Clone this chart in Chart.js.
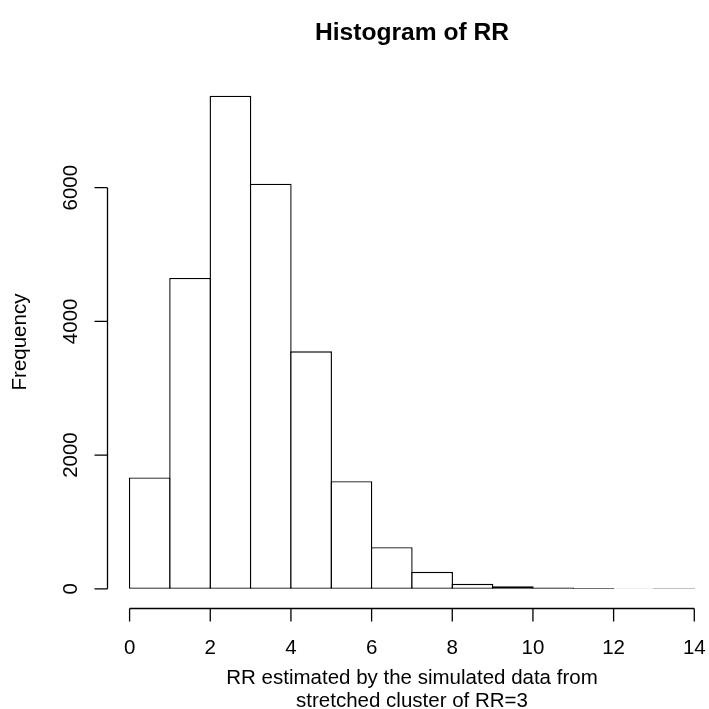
<!DOCTYPE html>
<html>
<head>
<meta charset="utf-8">
<script src="https://cdn.jsdelivr.net/npm/chart.js@4"></script>
<style>
  html, body { margin: 0; padding: 0; background: #fff; }
  #wrap { width: 709px; height: 709px; position: relative; }
</style>
</head>
<body>
<div id="wrap"><canvas id="c"></canvas></div>
<script>
// ---- data ----
const breaks = [0,1,2,3,4,5,6,7,8,9,10,11,12,13,14];
const counts = [1665, 4649, 7375, 6060, 3553, 1610, 623, 254, 75, 36, 20, 11, 6, 9];
const xTicks = [0, 2, 4, 6, 8, 10, 12, 14];
const yTicks = [0, 2000, 4000, 6000];
const titleText = "Histogram of RR";
const xLabelLines = ["RR estimated by the simulated data from", "stretched cluster of RR=3"];
const yLabelText = "Frequency";

const FONT = '"Liberation Sans", Arial, Helvetica, sans-serif';
const AX = 20.5;
const BW = 1.4;

const mids = counts.map((c, i) => ({ x: (breaks[i] + breaks[i + 1]) / 2, y: c }));

const xlo = breaks[0], xhi = breaks[breaks.length - 1];
const ymax = Math.max(...counts);
const ypad = ymax * 0.04;

const rAxes = {
  id: 'rAxes',
  afterDraw(chart) {
    const ctx = chart.ctx;
    const xs = chart.scales.x, ys = chart.scales.y;
    const ca = chart.chartArea;
    ctx.save();
    ctx.strokeStyle = '#000';
    ctx.lineWidth = 1.3;
    ctx.fillStyle = '#000';
    const tick = 13;
    // y axis
    const yax = ca.left + 0.5;
    ctx.beginPath();
    ctx.moveTo(yax, ys.getPixelForValue(yTicks[0]));
    ctx.lineTo(yax, ys.getPixelForValue(yTicks[yTicks.length - 1]));
    yTicks.forEach(v => {
      const p = ys.getPixelForValue(v);
      ctx.moveTo(yax, p);
      ctx.lineTo(yax - tick, p);
    });
    ctx.stroke();
    ctx.font = AX + 'px ' + FONT;
    ctx.textAlign = 'center';
    ctx.textBaseline = 'middle';
    yTicks.forEach(v => {
      const p = ys.getPixelForValue(v);
      ctx.save();
      ctx.translate(71, p);
      ctx.rotate(-Math.PI / 2);
      ctx.fillText(String(v), 0, 0);
      ctx.restore();
    });
    // x axis
    const xay = ca.bottom;
    ctx.beginPath();
    ctx.moveTo(xs.getPixelForValue(xTicks[0]), xay);
    ctx.lineTo(xs.getPixelForValue(xTicks[xTicks.length - 1]), xay);
    xTicks.forEach(v => {
      const p = xs.getPixelForValue(v);
      ctx.moveTo(p, xay);
      ctx.lineTo(p, xay + tick);
    });
    ctx.stroke();
    xTicks.forEach(v => {
      ctx.fillText(String(v), xs.getPixelForValue(v), 648);
    });
    // x label
    const cx = 412;
    ctx.fillText(xLabelLines[0], cx, 678);
    ctx.fillText(xLabelLines[1], cx, 701);
    // y label
    ctx.save();
    ctx.translate(20, 342);
    ctx.rotate(-Math.PI / 2);
    ctx.fillText(yLabelText, 0, 0);
    ctx.restore();
    // title
    ctx.font = 'bold 24.6px ' + FONT;
    ctx.fillText(titleText, cx, 33);
    ctx.restore();
  }
};

new Chart(document.getElementById('c'), {
  type: 'bar',
  data: {
    datasets: [{
      data: mids,
      backgroundColor: '#ffffff',
      borderColor: '#000000',
      borderWidth: BW,
      borderSkipped: false,
      barPercentage: 1 + BW / 40.29,
      categoryPercentage: 1.0
    }]
  },
  options: {
    responsive: true,
    maintainAspectRatio: false,
    animation: false,
    layout: { padding: { left: 107, right: 0, top: 76, bottom: 100.5 } },
    plugins: { legend: { display: false }, tooltip: { enabled: false }, title: { display: false } },
    scales: {
      x: { type: 'linear', display: false, min: xlo - 0.04 * (xhi - xlo), max: xhi + (709 - 694.3) / 40.29, offset: false },
      y: { type: 'linear', display: false, min: -ypad, max: ymax + ypad }
    }
  },
  plugins: [rAxes]
});
</script>
</body>
</html>
